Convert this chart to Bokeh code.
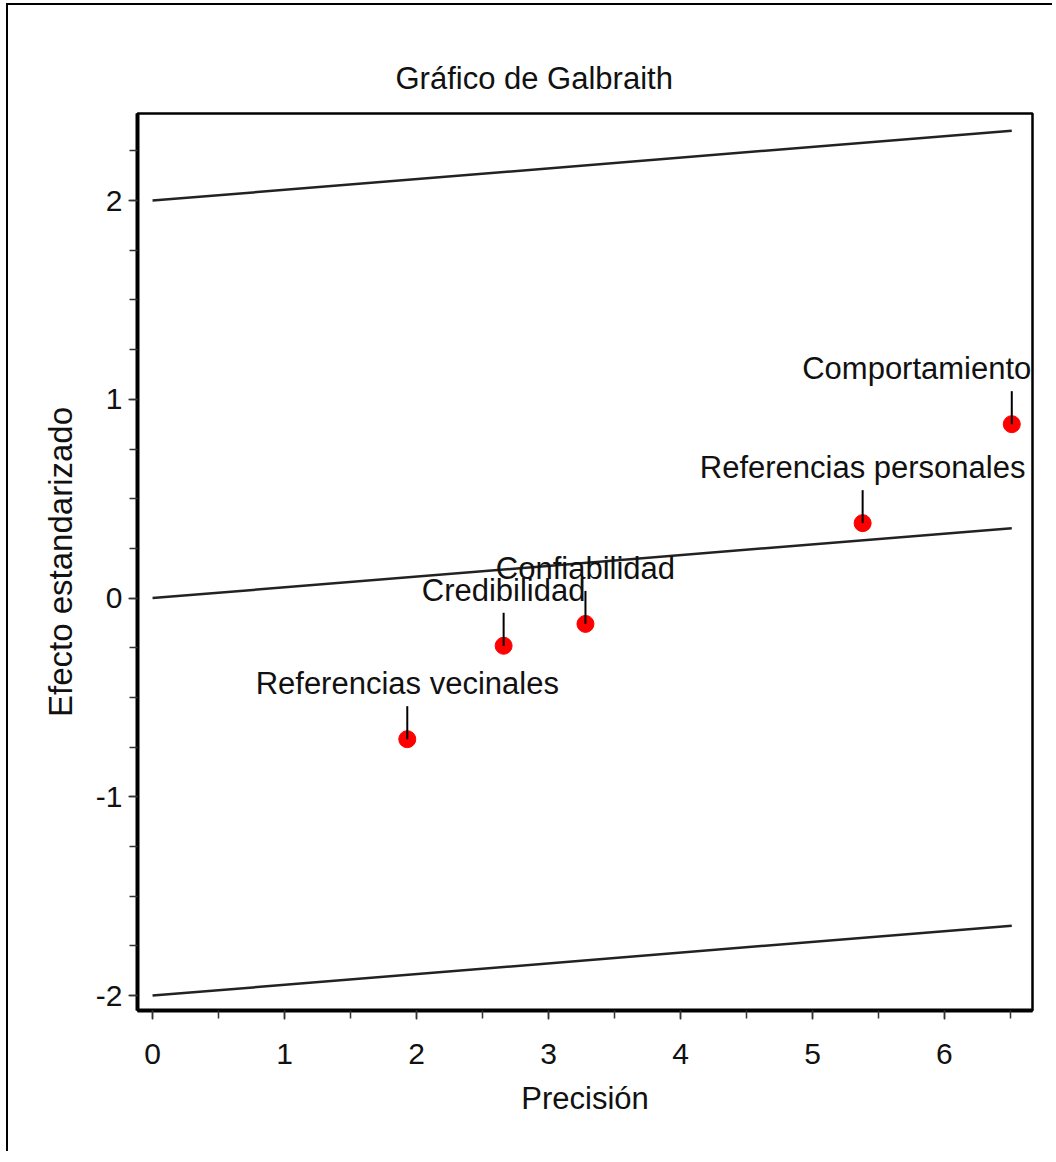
from bokeh.plotting import figure
from bokeh.models import Range1d, FixedTicker, ColumnDataSource, LabelSet
from bokeh.core.properties import value
from bokeh.embed import file_html
from bokeh.resources import INLINE

# ---- data ----
factors = ["Referencias vecinales", "Credibilidad", "Confiabilidad",
           "Referencias personales", "Comportamiento"]
precision = [1.93, 2.66, 3.28, 5.38, 6.51]
std_effect = [-0.71, -0.24, -0.13, 0.377, 0.875]
slope = 0.054          # regression line through origin
band = 2.0             # +/- 2 limits
x_major = [0, 1, 2, 3, 4, 5, 6]
x_labels = ["0", "1", "2", "3", "4", "5", "6"]
x_minor = [0, 0.5, 1, 1.5, 2, 2.5, 3, 3.5, 4, 4.5, 5, 5.5, 6, 6.5]
y_major = [-2, -1, 0, 1, 2]
y_labels = ["-2", "-1", "0", "1", "2"]
y_minor = [-2 + 0.25 * i for i in range(18)]

# ---- styles / layout ----
label_dx = [0, 0, 0, 0, -95]
FONT = "Liberation Sans"
W, H = 1046, 1148
ML, MR, MT, MB = 129, 22, 108, 143
X0, X1 = -0.114, 6.667
Y0, Y1 = -2.075, 2.438

p = figure(width=W, height=H, x_range=Range1d(X0, X1), y_range=Range1d(Y0, Y1),
           output_backend="svg", toolbar_location=None,
           min_border_left=ML, min_border_right=MR,
           min_border_top=MT, min_border_bottom=MB,
           background_fill_color="white", border_fill_color="white")
p.styles = {"border-left": "2px solid black", "border-top": "2px solid black",
            "margin-left": "6px", "margin-top": "3px"}

p.title.text = "Gráfico de Galbraith"
p.title.text_font = FONT
p.title.text_font_size = "31px"
p.title.text_font_style = "normal"
p.title.text_color = "#111111"
p.title.align = "left"
p.title.offset = 258
p.title.standoff = 36

p.xgrid.visible = False
p.ygrid.visible = False
p.outline_line_color = "black"
p.outline_line_width = 2.5

for ax in (p.xaxis[0], p.yaxis[0]):
    ax.axis_line_width = 4
    ax.axis_line_color = "black"
    ax.major_tick_line_color = "#333333"
    ax.minor_tick_line_color = "#333333"
    ax.major_tick_line_width = 1.5
    ax.minor_tick_line_width = 1.5
    ax.major_tick_in = 0
    ax.minor_tick_in = 0
    ax.major_tick_out = 9
    ax.minor_tick_out = 8
    ax.major_label_text_font = FONT
    ax.major_label_text_font_size = "30px"
    ax.major_label_text_color = "#111111"
    ax.axis_label_text_font = FONT
    ax.axis_label_text_font_size = "31px"
    ax.axis_label_text_font_style = "normal"
    ax.axis_label_text_color = "#111111"

p.xaxis.ticker = FixedTicker(ticks=x_major, minor_ticks=x_minor)
p.yaxis.ticker = FixedTicker(ticks=y_major, minor_ticks=y_minor)
p.xaxis.major_label_overrides = dict(zip(x_major, x_labels))
p.yaxis.major_label_overrides = dict(zip(y_major, y_labels))
p.xaxis.axis_label = "Precisión"
p.yaxis.axis_label = "Efecto estandarizado"
p.yaxis.axis_label_text_font_size = "33px"
p.xaxis.major_label_standoff = 24
p.yaxis.major_label_standoff = 6
p.xaxis.axis_label_standoff = 14
p.yaxis.axis_label_standoff = 14

# regression line and +/-2 limits
xs = [0, max(precision)]
for off in (band, 0.0, -band):
    p.line(xs, [slope * x + off for x in xs], line_color="#222222", line_width=2.5)

# points
p.scatter(precision, std_effect, size=17, marker="circle",
          fill_color="red", line_color="red")

# connectors from point up to label
frame_h = H - MT - MB
data_per_px = (Y1 - Y0) / frame_h
conn = 33 * data_per_px
p.segment(x0=precision, y0=std_effect, x1=precision,
          y1=[v + conn for v in std_effect], line_color="black", line_width=2)

src = ColumnDataSource(dict(x=precision, y=std_effect, t=factors, dx=label_dx))
labels = LabelSet(x="x", y="y", text="t", source=src, x_offset="dx", y_offset=45,
                  text_align="center", text_baseline="alphabetic",
                  text_font=value(FONT), text_font_size=value("31px"),
                  text_color="#111111", level="overlay")
p.add_layout(labels)

open("out.html", "w").write(file_html(p, INLINE))
